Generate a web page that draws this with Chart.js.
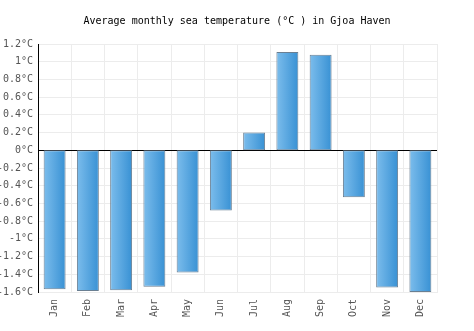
<!DOCTYPE html>
<html>
<head>
<meta charset="utf-8">
<script src="https://cdn.jsdelivr.net/npm/chart.js@4"></script>
<style>
  html, body { margin: 0; padding: 0; background: #fff; }
  #wrap { width: 474px; height: 331px; }
</style>
</head>
<body>
<div id="wrap"><canvas id="seaChart" width="474" height="331"></canvas></div>
<script>
// data
const months = ["Jan","Feb","Mar","Apr","May","Jun","Jul","Aug","Sep","Oct","Nov","Dec"];
const seaTemp = [-1.57, -1.59, -1.58, -1.54, -1.38, -0.68, 0.2, 1.11, 1.08, -0.53, -1.55, -1.6];
const yMin = -1.6;
const yMax = 1.2;
const yStep = 0.2;
const titleText = "Average monthly sea temperature (°C ) in Gjoa Haven";

const mono = "'DejaVu Sans Mono', 'Liberation Mono', monospace";

function barFill(c) {
    const chart = c.chart;
    const xs = chart.scales.x;
    if (!chart.chartArea || !xs) return "#4a9fe0";
    const cx = xs.getPixelForValue(c.dataIndex);
    const g = chart.ctx.createLinearGradient(cx - 11, 0, cx + 11, 0);
    g.addColorStop(0, "#7cbdec");
    g.addColorStop(1, "#3891d4");
    return g;
}

// title centred on the whole canvas, not on the padded box
const centeredTitle = {
    id: "centeredTitle",
    afterDraw(chart) {
        const ctx = chart.ctx;
        ctx.save();
        ctx.font = "10px " + mono;
        ctx.fillStyle = "#000";
        ctx.textAlign = "center";
        ctx.textBaseline = "middle";
        ctx.fillText(titleText, chart.width / 2, 21);
        ctx.restore();
    }
};

new Chart(document.getElementById("seaChart"), {
    type: "bar",
    data: {
        labels: months,
        datasets: [{
            label: "Sea temperature",
            data: seaTemp,
            backgroundColor: barFill,
            borderColor: "#6a7f92",
            borderWidth: 1,
            borderSkipped: false,
            categoryPercentage: 1,
            barPercentage: 0.66
        }]
    },
    options: {
        responsive: false,
        animation: false,
        layout: { padding: { left: 0, right: 37, top: 44, bottom: 0 } },
        plugins: {
            legend: { display: false },
            tooltip: { enabled: false },
            title: { display: false }
        },
        scales: {
            x: {
                grid: { color: "#ececec", offset: true, drawTicks: false },
                border: { color: "#ececec" },
                ticks: {
                    color: "#555",
                    font: { family: mono, size: 10 },
                    minRotation: 90,
                    maxRotation: 90,
                    padding: 7
                },
                afterFit: function(scale) { scale.height = 39; }
            },
            y: {
                min: yMin,
                max: yMax,
                grid: {
                    color: function(c) { return c.tick && Math.abs(c.tick.value) < 1e-9 ? "#000" : "#ececec"; },
                    drawTicks: false
                },
                border: { color: "#000", width: 1 },
                ticks: {
                    stepSize: yStep,
                    color: "#555",
                    font: { family: mono, size: 10 },
                    padding: 5,
                    callback: function(v) { return (Math.round(v * 10) / 10) + "°C"; }
                },
                afterFit: function(scale) { scale.width = 38; }
            }
        }
    },
    plugins: [centeredTitle]
});
</script>
</body>
</html>
